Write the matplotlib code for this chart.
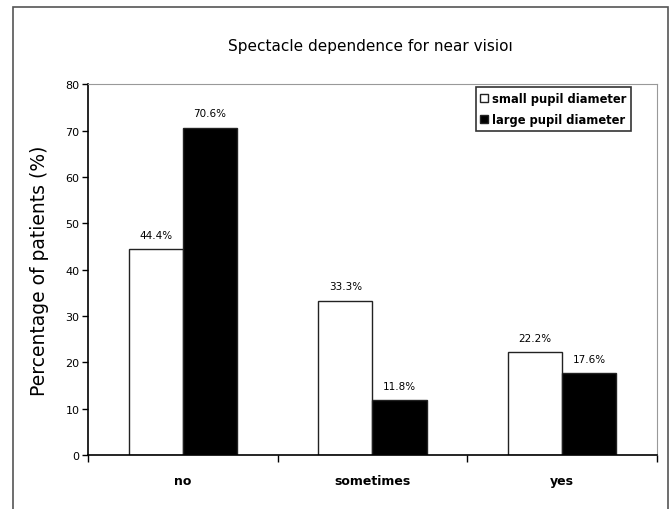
import matplotlib.pyplot as plt
import numpy as np
from matplotlib.patches import Rectangle

categories = ['no', 'sometimes', 'yes']
small_pupil = [44.4, 33.3, 22.2]
large_pupil = [70.6, 11.8, 17.6]

fig = plt.figure(figsize=(6.71, 5.10), dpi=100)
ax = fig.add_axes([0.1311, 0.106, 0.848, 0.727])

# outer frame of the chart
fig.patches.append(Rectangle((13/671, -0.1), 655/671, 1.1 - 8/510, transform=fig.transFigure,
                             fill=False, edgecolor='#555555', linewidth=1.2))

x = np.arange(len(categories)) + 0.5
w = 0.285
b1 = ax.bar(x - w/2, small_pupil, w, color='white', edgecolor='#222222', linewidth=1.0,
            label='small pupil diameter')
b2 = ax.bar(x + w/2, large_pupil, w, color='black', edgecolor='#222222', linewidth=1.0,
            label='large pupil diameter')

for bars, vals in [(b1, small_pupil), (b2, large_pupil)]:
    for r, v in zip(bars, vals):
        ax.text(r.get_x() + r.get_width()/2, v + 2.0, f'{v:.1f}%', ha='center', va='bottom',
                fontsize=7.5)

ax.set_xlim(0, 3)
ax.set_ylim(0, 80)
ax.set_yticks(range(0, 81, 10))
ax.set_xticks([0, 1, 2, 3])
ax.set_xticklabels([])
ax.tick_params(axis='x', direction='out', length=5, width=1)
ax.tick_params(axis='y', direction='out', length=4, width=1, labelsize=8, pad=2)
for xc, c in zip(x, categories):
    ax.text(xc, -5.5, c, ha='center', va='center', fontsize=9, fontweight='bold')

ax.spines['top'].set_color('#999999')
ax.spines['right'].set_color('#999999')
ax.spines['left'].set_linewidth(1.2)
ax.spines['bottom'].set_linewidth(1.2)

ax.set_ylabel('Percentage of patients (%)', fontsize=13.5, labelpad=12)
fig.text(0.552, 0.908, 'Spectacle dependence for near visioı', ha='center', va='center', fontsize=11)

leg = ax.legend(loc='upper right', bbox_to_anchor=(0.958, 0.998), frameon=True,
                fancybox=False, edgecolor='black', handlelength=0.7, handleheight=0.7,
                handletextpad=0.3, borderpad=0.4, labelspacing=0.75, borderaxespad=0.2,
                prop={'weight': 'bold', 'size': 8.3})
leg.get_frame().set_linewidth(1.2)

fig.savefig('out.png', dpi=100)
